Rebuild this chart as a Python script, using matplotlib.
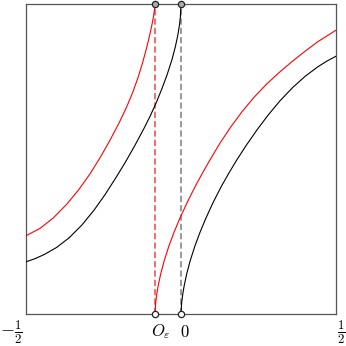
import matplotlib
matplotlib.use('Agg')
import matplotlib.pyplot as plt

plt.rcParams['mathtext.fontset'] = 'cm'

# singular points
x_eps = -0.0837
x_zero = 0.0

# black curve, left and right branches
black_left_x = [-0.5, -0.47, -0.44, -0.40, -0.36, -0.32, -0.28, -0.244, -0.21, -0.179, -0.15,
                -0.12, -0.10, -0.08, -0.061, -0.045, -0.029, -0.018, -0.010, -0.005, -0.002, 0.0]
black_left_y = [0.168, 0.1785, 0.192, 0.215, 0.246, 0.286, 0.335, 0.386, 0.439, 0.490, 0.541,
                0.597, 0.637, 0.681, 0.728, 0.771, 0.821, 0.863, 0.901, 0.932, 0.959, 1.0]
black_right_x = [0.0, 0.002, 0.005, 0.010, 0.018, 0.029, 0.045, 0.061, 0.080, 0.104, 0.130,
                 0.155, 0.179, 0.210, 0.244, 0.280, 0.319, 0.360, 0.400, 0.440, 0.470, 0.5]
black_right_y = [0.0, 0.035, 0.060, 0.090, 0.128, 0.170, 0.220, 0.263, 0.309, 0.361, 0.412,
                 0.456, 0.496, 0.544, 0.593, 0.641, 0.688, 0.731, 0.767, 0.797, 0.816, 0.832]

# red curve, left and right branches
red_left_x = [-0.5, -0.454, -0.411, -0.368, -0.33, -0.293, -0.26, -0.229, -0.20, -0.175,
              -0.155, -0.138, -0.125, -0.114, -0.105, -0.098, -0.093, -0.089, -0.086, -0.0837]
red_left_y = [0.252, 0.276, 0.310, 0.354, 0.400, 0.452, 0.505, 0.560, 0.615, 0.668,
              0.716, 0.764, 0.806, 0.846, 0.882, 0.912, 0.936, 0.957, 0.976, 1.0]
red_right_x = [-0.0837, -0.0817, -0.0787, -0.0737, -0.0657, -0.0547, -0.0387, -0.0227, -0.004,
               0.020, 0.046, 0.071, 0.095, 0.126, 0.160, 0.196, 0.235, 0.276, 0.316, 0.356,
               0.400, 0.440, 0.470, 0.5]
red_right_y = [0.0, 0.035, 0.060, 0.090, 0.128, 0.170, 0.220, 0.263, 0.308,
               0.360, 0.412, 0.458, 0.500, 0.552, 0.603, 0.652, 0.699, 0.742, 0.779, 0.813,
               0.848, 0.878, 0.897, 0.916]

tick_pos = [-0.5, x_eps, x_zero, 0.5]
tick_labels = [r'$-\frac{1}{2}$', r'$O_\varepsilon$', r'$0$', r'$\frac{1}{2}$']
tick_shift = [-0.047, 0.019, 0.013, 0.015]
tick_size = [13, 12, 12, 13]

fig = plt.figure(figsize=(3.46, 3.46), dpi=100)
ax = fig.add_axes([0.0743, 0.0925, 0.8977, 0.896])

ax.plot(black_left_x, black_left_y, color='black', lw=0.8, zorder=3)
ax.plot(black_right_x, black_right_y, color='black', lw=0.8, zorder=3)
ax.plot(red_left_x, red_left_y, color='red', lw=0.8, zorder=3)
ax.plot(red_right_x, red_right_y, color='red', lw=0.8, zorder=3)

# dashed verticals at the singular points
ax.plot([x_eps, x_eps], [0, 1], color='#f26d6d', lw=1.4, dashes=(3.2, 1.6), zorder=2)
ax.plot([x_zero, x_zero], [0, 1], color='#999999', lw=1.4, dashes=(3.2, 1.6), zorder=2)

# end circles
for xp in [x_eps, x_zero]:
    ax.plot(xp, 1, 'o', ms=4.5, mfc='#aaaaaa', mec='#222222', mew=0.9, clip_on=False, zorder=5)
    ax.plot(xp, 0, 'o', ms=4.5, mfc='white', mec='#222222', mew=0.9, clip_on=False, zorder=5)

ax.set_xlim(-0.5, 0.5)
ax.set_ylim(0, 1)
ax.set_xticks([])
ax.set_yticks([])
for sp in ax.spines.values():
    sp.set_color('#555555')
    sp.set_linewidth(0.9)

for xp, lab, dx, fs in zip(tick_pos, tick_labels, tick_shift, tick_size):
    ax.text(xp + dx, -0.058, lab, ha='center', va='center', fontsize=fs, clip_on=False)

plt.savefig('out.png', dpi=100)
plt.close()
